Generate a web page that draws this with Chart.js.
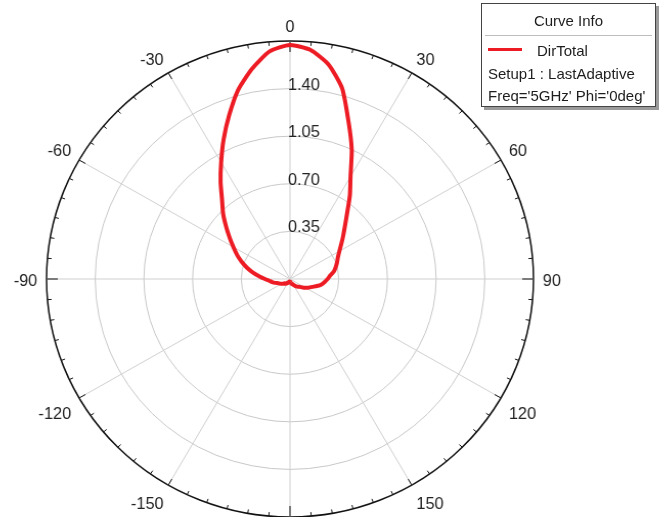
<!DOCTYPE html>
<html>
<head>
<meta charset="utf-8">
<script src="https://cdn.jsdelivr.net/npm/chart.js@4/dist/chart.umd.min.js"></script>
<style>
  html, body { margin: 0; padding: 0; background: #fff; overflow: hidden; width: 659px; height: 517px; }
  #wrap { position: relative; width: 659px; height: 517px; overflow: hidden; font-family: "Liberation Sans", Arial, sans-serif; }
  #polar { position: absolute; left: -10px; top: 11px; transform: scaleX(1.023); transform-origin: 300px 0; }
  #info { position: absolute; left: 481px; top: 3px; width: 173px; height: 102px; border: 1px solid #444; background: #fff;
          box-shadow: 3px 3px 0 #9a9a9a; color: #1e1e1e; font-size: 15px; }
  #info .head { position: absolute; left: 0; right: 0; top: 8px; text-align: center; }
  #info .sep { position: absolute; left: 3px; right: 3px; top: 31px; border-top: 1px solid #bdbdbd; }
  #info .swatch { position: absolute; left: 6px; top: 44px; width: 34px; height: 3px; background: rgb(237, 28, 36); }
  #info .row { position: absolute; white-space: nowrap; }
</style>
</head>
<body>
<div id="wrap">
  <canvas id="polar" width="600" height="540"></canvas>
  <div id="info">
    <div class="head">Curve Info</div>
    <div class="sep"></div>
    <div class="swatch"></div>
    <div class="row" style="left:55px; top:38px;">DirTotal</div>
    <div class="row" style="left:6px; top:61px;">Setup1 : LastAdaptive</div>
    <div class="row" style="left:6px; top:83px;">Freq='5GHz' Phi='0deg'</div>
  </div>
</div>
<script>
// Theta (deg), clockwise from the top, 5 degree steps
const thetaDeg = [
  0, 5, 10, 15, 20, 25, 30, 35, 40, 45, 50, 55, 60, 65, 70, 75, 80, 85, 90,
  95, 100, 105, 110, 115, 120, 125, 130, 135, 140, 145, 150, 155, 160, 165, 170, 175, 180,
  -175, -170, -165, -160, -155, -150, -145, -140, -135, -130, -125, -120, -115, -110, -105, -100,
  -95, -90, -85, -80, -75, -70, -65, -60, -55, -50, -45, -40, -35, -30, -25, -20, -15, -10, -5
];

// DirTotal, same order as thetaDeg
const dirTotal = [
  1.72, 1.69, 1.60, 1.45, 1.23, 1.05, 0.87, 0.75, 0.64, 0.56, 0.50, 0.45, 0.41, 0.38, 0.36, 0.34, 0.32, 0.29, 0.27,
  0.25, 0.23, 0.20, 0.17, 0.15, 0.13, 0.11, 0.09, 0.08, 0.07, 0.06, 0.05, 0.04, 0.04, 0.03, 0.03, 0.02, 0.02,
  0.02, 0.02, 0.02, 0.03, 0.03, 0.03, 0.04, 0.04, 0.05, 0.05, 0.06, 0.07, 0.08, 0.09, 0.11, 0.13,
  0.15, 0.18, 0.22, 0.27, 0.32, 0.37, 0.42, 0.47, 0.53, 0.60, 0.68, 0.76, 0.87, 0.99, 1.13, 1.28, 1.44, 1.57, 1.68
];

// rings and labelled angles
const radialTicks = [0.35, 0.70, 1.05, 1.40];
const radialMax = 1.75;
const angleLabels = [0, 30, 60, 90, 120, 150, 180, -150, -120, -90, -60, -30];

const labelFont = "16px 'Liberation Sans', Arial, sans-serif";

// ring value labels, angle labels and tick marks around the outer circle
const polarExtras = {
  id: 'polarExtras',
  beforeDatasetsDraw(chart) {
    const s = chart.scales.r;
    const ctx = chart.ctx;
    const outer = s.getDistanceFromCenterForValue(radialMax);
    ctx.save();
    ctx.fillStyle = '#222';
    ctx.font = labelFont;
    ctx.textAlign = 'left';
    ctx.textBaseline = 'alphabetic';
    radialTicks.forEach(v => {
      const d = s.getDistanceFromCenterForValue(v);
      ctx.fillText(v.toFixed(2), s.xCenter - 2, s.yCenter - d + 1);
    });

    ctx.textAlign = 'center';
    ctx.textBaseline = 'middle';
    thetaDeg.forEach((t, i) => {
      if (!angleLabels.includes(t)) return;
      const txt = String(t);
      const w = ctx.measureText(txt).width;
      const a = s.getIndexAngle(i);
      const c = Math.cos(a);
      const sn = Math.sin(a);
      const p = s.getPointPosition(i, outer + 9);
      const dx = sn > 0.1 ? w / 2 : (sn < -0.1 ? -w / 2 : 0);
      const dy = c > 0.1 ? -4 : (c < -0.1 ? 12 : 3);
      ctx.fillText(txt, p.x + dx, p.y + dy);
    });

    ctx.strokeStyle = '#111';
    ctx.lineWidth = 1;
    thetaDeg.forEach((t, i) => {
      const len = t % 90 === 0 ? 11 : (t % 30 === 0 ? 7 : 4);
      const a = s.getPointPosition(i, outer);
      const b = s.getPointPosition(i, outer - len);
      ctx.beginPath();
      ctx.moveTo(a.x, a.y);
      ctx.lineTo(b.x, b.y);
      ctx.stroke();
    });
    ctx.restore();
  }
};

function createChart() {
  const ctx = document.getElementById('polar').getContext('2d');
  new Chart(ctx, {
    type: 'radar',
    data: {
      labels: thetaDeg,
      datasets: [{
        label: 'DirTotal',
        data: dirTotal,
        borderColor: 'rgb(237, 28, 36)',
        borderWidth: 4,
        pointRadius: 0,
        fill: false,
        tension: 0.2
      }]
    },
    options: {
      responsive: false,
      animation: false,
      layout: { padding: { top: 30, bottom: 34, left: 62, right: 62 } },
      plugins: { legend: { display: false }, tooltip: { enabled: false } },
      scales: {
        r: {
          min: 0,
          max: radialMax,
          startAngle: 0,
          afterBuildTicks: scale => {
            scale.ticks = [0, ...radialTicks, radialMax].map(v => ({ value: v }));
          },
          ticks: { display: false },
          grid: {
            circular: true,
            color: c => c.tick && c.tick.value >= radialMax ? '#111' : '#c8c8c8',
            lineWidth: c => c.tick && c.tick.value >= radialMax ? 1.5 : 1
          },
          angleLines: {
            color: '#cfcfcf',
            lineWidth: c => thetaDeg[c.index] % 30 === 0 ? 1 : 0
          },
          pointLabels: { display: false }
        }
      }
    },
    plugins: [polarExtras]
  });
}

document.addEventListener('DOMContentLoaded', function () {
  createChart();
});
</script>
</body>
</html>
